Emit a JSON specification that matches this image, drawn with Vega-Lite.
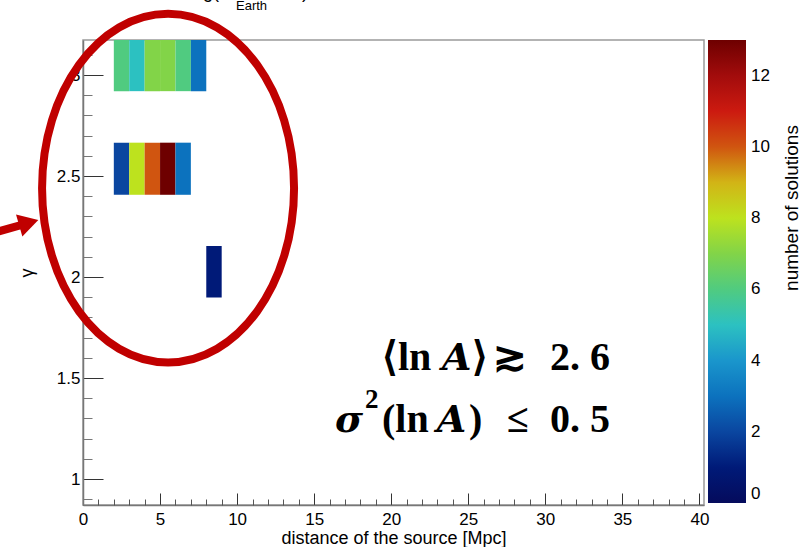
{
  "$schema": "https://vega.github.io/schema/vega-lite/v6.json",
  "width": 621,
  "height": 465,
  "autosize": {"type": "none"},
  "padding": {"left": 83, "top": 40, "right": 98, "bottom": 42},
  "background": "white",
  "config": {
    "view": {"stroke": "#9a9a9a", "strokeWidth": 1.5},
    "axis": {"grid": false, "labelFont": "Liberation Sans", "titleFont": "Liberation Sans", "labelColor": "black", "titleColor": "black", "labelFontSize": 17, "titleFontSize": 18, "titleFontWeight": "normal", "domainColor": "#777", "domainWidth": 1.5, "tickColor": "#333", "labelFlush": false},
    "legend": {"labelFont": "Liberation Sans", "labelFontSize": 17, "labelColor": "black"}
  },
  "datasets": {
    "cells": [
      {"x0": 2, "x1": 3, "g0": 2.92, "g1": 3.1733, "n": 6},
      {"x0": 3, "x1": 4, "g0": 2.92, "g1": 3.1733, "n": 5},
      {"x0": 4, "x1": 5, "g0": 2.92, "g1": 3.1733, "n": 7},
      {"x0": 5, "x1": 6, "g0": 2.92, "g1": 3.1733, "n": 7},
      {"x0": 6, "x1": 7, "g0": 2.92, "g1": 3.1733, "n": 6},
      {"x0": 7, "x1": 8, "g0": 2.92, "g1": 3.1733, "n": 3},
      {"x0": 2, "x1": 3, "g0": 2.407, "g1": 2.665, "n": 2},
      {"x0": 3, "x1": 4, "g0": 2.407, "g1": 2.665, "n": 8},
      {"x0": 4, "x1": 5, "g0": 2.407, "g1": 2.665, "n": 10},
      {"x0": 5, "x1": 6, "g0": 2.407, "g1": 2.665, "n": 13},
      {"x0": 6, "x1": 7, "g0": 2.407, "g1": 2.665, "n": 3},
      {"x0": 8, "x1": 9, "g0": 1.898, "g1": 2.153, "n": 1}
    ],
    "oval": [{"x": 5.52, "y": 2.44}],
    "shaft": [{"x": -5.97, "y": 2.215, "x2": -4.088, "y2": 2.256}],
    "head": [{"x": -3.52, "y": 2.2686}],
    "upright": [
      {"t": "⟨ln", "x": 19.404, "y": 1.5396},
      {"t": "⟩", "x": 25.225, "y": 1.5396},
      {"t": "≳", "x": 26.608, "y": 1.5396},
      {"t": "2.", "x": 30.307, "y": 1.5396},
      {"t": "6", "x": 32.903, "y": 1.5396},
      {"t": "(ln", "x": 19.404, "y": 1.2342},
      {"t": ")", "x": 25.05, "y": 1.2342},
      {"t": "≤", "x": 27.516, "y": 1.2342},
      {"t": "0.", "x": 30.307, "y": 1.2342},
      {"t": "5", "x": 32.903, "y": 1.2342}
    ],
    "italic": [
      {"t": "A", "x": 23.3, "y": 1.5396},
      {"t": "σ", "x": 16.354, "y": 1.2342},
      {"t": "A", "x": 22.95, "y": 1.2342}
    ],
    "sup": [{"t": "2", "x": 18.3, "y": 1.3515}],
    "cut": [
      {"t": "log(E", "x": 6.88, "y": 3.381},
      {"t": ")", "x": 14.21, "y": 3.381}
    ],
    "sub": [{"t": "Earth", "x": 9.93, "y": 3.324}],
    "ztitle": [{"t": "number of solutions", "x": 46.0, "y": 2.752}]
  },
  "layer": [
    {
      "data": {"name": "cells"},
      "mark": {"type": "rect"},
      "encoding": {
        "x": {"field": "x0", "type": "quantitative", "scale": {"domain": [0, 40.3], "nice": false, "zero": false},
          "axis": {"orient": "bottom", "values": [0, 5, 10, 15, 20, 25, 30, 35, 40], "tickSize": -12, "labelPadding": 18, "title": "distance of the source [Mpc]", "titlePadding": 2, "format": "~g"}},
        "x2": {"field": "x1"},
        "y": {"field": "g0", "type": "quantitative", "scale": {"domain": [0.8713, 3.1733], "nice": false, "zero": false},
          "axis": {"orient": "left", "values": [1, 1.5, 2, 2.5, 3], "tickSize": -20, "labelPadding": 23, "title": "γ", "titlePadding": 20, "format": "~g"}},
        "y2": {"field": "g1"},
        "color": {"field": "n", "type": "quantitative",
          "scale": {"domain": [0, 1, 2, 3, 4, 5, 6, 7, 8, 9, 10, 11, 12, 13],
            "range": ["#050b5c", "#001a78", "#0a46a0", "#0c72be", "#1a96cc", "#2cc1c1", "#50cb80", "#82d448", "#bde21e", "#d2b416", "#d05510", "#cc1a10", "#a20c0c", "#6e0000"]},
          "legend": {"type": "gradient", "direction": "vertical", "orient": "right", "offset": 4, "padding": 0, "title": null, "gradientLength": 463, "gradientThickness": 38, "gradientStrokeWidth": 0, "values": [0, 2, 4, 6, 8, 10, 12], "labelOffset": 5}}
      }
    },
    {
      "data": {"name": "oval"},
      "mark": {"type": "point", "shape": "M -1 0 A 1 1.383 0 1 0 1 0 A 1 1.383 0 1 0 -1 0 Z", "size": 63504, "filled": false, "stroke": "#c00000", "strokeWidth": 8, "opacity": 1},
      "encoding": {
        "x": {"field": "x", "type": "quantitative", "axis": {"orient": "bottom", "values": [1, 2, 3, 4, 6, 7, 8, 9, 11, 12, 13, 14, 16, 17, 18, 19, 21, 22, 23, 24, 26, 27, 28, 29, 31, 32, 33, 34, 36, 37, 38, 39], "tickSize": -6, "labels": false, "domain": false, "title": null, "tickColor": "#555"}},
        "y": {"field": "y", "type": "quantitative", "axis": {"orient": "left", "values": [0.9, 1.1, 1.2, 1.3, 1.4, 1.6, 1.7, 1.8, 1.9, 2.1, 2.2, 2.3, 2.4, 2.6, 2.7, 2.8, 2.9, 3.1], "tickSize": -9, "labels": false, "domain": false, "title": null, "tickColor": "#777"}}
      }
    },
    {
      "data": {"name": "shaft"},
      "mark": {"type": "rule", "color": "#c00000", "strokeWidth": 8, "strokeCap": "butt"},
      "encoding": {
        "x": {"field": "x", "type": "quantitative", "axis": null},
        "x2": {"field": "x2"},
        "y": {"field": "y", "type": "quantitative", "axis": null},
        "y2": {"field": "y2"}
      }
    },
    {
      "data": {"name": "head"},
      "mark": {"type": "point", "shape": "triangle-right", "size": 529, "angle": -16, "filled": true, "color": "#c00000", "opacity": 1},
      "encoding": {
        "x": {"field": "x", "type": "quantitative", "axis": null},
        "y": {"field": "y", "type": "quantitative", "axis": null}
      }
    },
    {
      "data": {"name": "upright"},
      "mark": {"type": "text", "align": "left", "baseline": "alphabetic", "font": "Liberation Serif", "fontWeight": "bold", "fontSize": 40, "color": "black"},
      "encoding": {
        "x": {"field": "x", "type": "quantitative", "axis": null},
        "y": {"field": "y", "type": "quantitative", "axis": null},
        "text": {"field": "t"}
      }
    },
    {
      "data": {"name": "italic"},
      "mark": {"type": "text", "align": "left", "baseline": "alphabetic", "font": "DejaVu Serif", "fontWeight": "bold", "fontStyle": "italic", "fontSize": 38, "color": "black"},
      "encoding": {
        "x": {"field": "x", "type": "quantitative", "axis": null},
        "y": {"field": "y", "type": "quantitative", "axis": null},
        "text": {"field": "t"}
      }
    },
    {
      "data": {"name": "sup"},
      "mark": {"type": "text", "align": "left", "baseline": "alphabetic", "font": "Liberation Serif", "fontWeight": "bold", "fontSize": 27, "color": "black"},
      "encoding": {
        "x": {"field": "x", "type": "quantitative", "axis": null},
        "y": {"field": "y", "type": "quantitative", "axis": null},
        "text": {"field": "t"}
      }
    },
    {
      "data": {"name": "cut"},
      "mark": {"type": "text", "align": "left", "baseline": "alphabetic", "font": "Liberation Sans", "fontSize": 18, "color": "black"},
      "encoding": {
        "x": {"field": "x", "type": "quantitative", "axis": null},
        "y": {"field": "y", "type": "quantitative", "axis": null},
        "text": {"field": "t"}
      }
    },
    {
      "data": {"name": "sub"},
      "mark": {"type": "text", "align": "left", "baseline": "alphabetic", "font": "Liberation Sans", "fontSize": 13, "color": "black"},
      "encoding": {
        "x": {"field": "x", "type": "quantitative", "axis": null},
        "y": {"field": "y", "type": "quantitative", "axis": null},
        "text": {"field": "t"}
      }
    },
    {
      "data": {"name": "ztitle"},
      "mark": {"type": "text", "align": "right", "baseline": "middle", "angle": 270, "font": "Liberation Sans", "fontSize": 19, "color": "black"},
      "encoding": {
        "x": {"field": "x", "type": "quantitative", "axis": null},
        "y": {"field": "y", "type": "quantitative", "axis": null},
        "text": {"field": "t"}
      }
    }
  ],
  "resolve": {"axis": {"x": "independent", "y": "independent"}}
}
